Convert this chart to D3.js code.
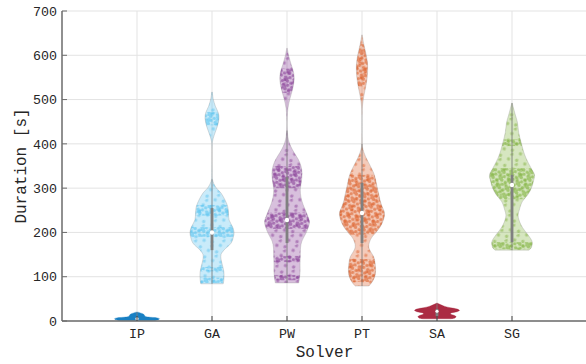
<!DOCTYPE html>
<html>
<head>
<meta charset="utf-8">
<script src="https://cdn.jsdelivr.net/npm/d3@7"></script>
<style>
  body { margin: 0; background: #fff; }
  svg text { font-family: "Liberation Mono", "DejaVu Sans Mono", monospace; fill: #262626; }
</style>
</head>
<body>
<div id="chart"></div>
<script>
var w = 586;
var h = 364;

// categories and colours
var solvers = ["IP", "GA", "PW", "PT", "SA", "SG"];
var colors = ["#0072BD", "#4DBEEE", "#7E2F8E", "#D95319", "#A2142F", "#77AC30"];
var yTicks = [0, 100, 200, 300, 400, 500, 600, 700];

// density profiles: [duration, relative density]
var densIP = [[1, 0.7], [3, 0.95], [5, 1.0], [7, 0.9], [9, 0.5], [11, 0.35], [14, 0.32], [17, 0.22], [20, 0.05]];
var densGA = [[84, 0.5], [95, 0.53], [110, 0.53], [125, 0.47], [140, 0.4], [150, 0.4], [160, 0.53], [176, 0.85], [190, 0.95], [200, 0.98], [212, 0.92], [228, 0.76], [245, 0.73], [258, 0.7], [273, 0.58], [289, 0.4], [300, 0.2], [310, 0.08], [320, 0.02], [340, 0.005], [395, 0.005], [405, 0.02], [420, 0.1], [440, 0.24], [458, 0.31], [470, 0.28], [485, 0.15], [500, 0.06], [517, 0.01]];
var densPW = [[86, 0.52], [95, 0.55], [110, 0.58], [130, 0.58], [145, 0.59], [165, 0.6], [180, 0.66], [199, 0.85], [212, 0.95], [224, 1.0], [236, 0.93], [250, 0.82], [265, 0.7], [280, 0.62], [296, 0.59], [315, 0.64], [334, 0.67], [350, 0.62], [365, 0.5], [380, 0.32], [395, 0.16], [410, 0.06], [425, 0.02], [440, 0.005], [460, 0.01], [480, 0.04], [500, 0.12], [520, 0.23], [540, 0.31], [560, 0.3], [580, 0.18], [600, 0.07], [616, 0.01]];
var densPT = [[79, 0.3], [86, 0.42], [99, 0.56], [110, 0.6], [122, 0.6], [135, 0.57], [145, 0.52], [157, 0.38], [167, 0.3], [178, 0.33], [190, 0.45], [200, 0.62], [212, 0.8], [228, 0.95], [244, 1.0], [260, 0.88], [273, 0.8], [288, 0.74], [303, 0.67], [320, 0.6], [334, 0.52], [345, 0.42], [357, 0.3], [370, 0.17], [380, 0.09], [393, 0.02], [410, 0.005], [470, 0.005], [490, 0.03], [510, 0.09], [530, 0.17], [550, 0.23], [567, 0.25], [585, 0.24], [605, 0.17], [625, 0.08], [646, 0.01]];
var densSA = [[5, 0.6], [7, 0.8], [10, 0.85], [13, 0.75], [16, 0.6], [18, 0.62], [21, 0.9], [24, 1.0], [27, 0.9], [30, 0.6], [33, 0.35], [36, 0.2], [40, 0.03]];
var densSG = [[160, 0.75], [165, 0.85], [178, 0.9], [194, 0.72], [205, 0.55], [217, 0.4], [230, 0.3], [239, 0.27], [250, 0.32], [269, 0.45], [285, 0.7], [300, 0.86], [315, 0.95], [330, 1.0], [345, 0.85], [368, 0.62], [385, 0.5], [404, 0.4], [425, 0.3], [449, 0.24], [465, 0.15], [480, 0.07], [492, 0.01]];

// ranges where the data points bunch together
var bandsIP = [[1, 20]];
var bandsGA = [[86, 98], [112, 122], [190, 212], [238, 262], [442, 472]];
var bandsPW = [[92, 104], [133, 147], [208, 245], [300, 350], [515, 570]];
var bandsPT = [[88, 140], [195, 330], [530, 625]];
var bandsSA = [[5, 38]];
var bandsSG = [[162, 178], [275, 345], [395, 410]];

// box statistics
var medians = [5, 200, 228, 244, 22, 307];
var q1 = [3, 160, 176, 176, 11, 178];
var q3 = [8, 255, 325, 312, 27, 330];
var whiskLo = [1, 84, 86, 79, 5, 160];
var whiskHi = [20, 320, 430, 400, 40, 492];

var dens = [densIP, densGA, densPW, densPT, densSA, densSG];
var bands = [bandsIP, bandsGA, bandsPW, bandsPT, bandsSA, bandsSG];

var svg = d3.select("#chart").append("svg").attr("width", w).attr("height", h);

var x = d3.scaleLinear().domain([0, 7]).range([62, 587]);
var y = d3.scaleLinear().domain([0, 700]).range([321, 11]);
var halfW = 0.3; // violin half width in category units

// grid
svg.selectAll(".hgrid").data(yTicks).enter().append("line")
  .attr("x1", x(0)).attr("x2", x(7))
  .attr("y1", d => y(d)).attr("y2", d => y(d))
  .attr("stroke", "#e3e3e3").attr("stroke-width", 1);
svg.selectAll(".vgrid").data(solvers).enter().append("line")
  .attr("x1", (d, i) => x(i + 1)).attr("x2", (d, i) => x(i + 1))
  .attr("y1", y(0)).attr("y2", y(700))
  .attr("stroke", "#e3e3e3").attr("stroke-width", 1);

// dot patterns
var defs = svg.append("defs");
colors.forEach(function (c, i) {
  var dense = defs.append("pattern").attr("id", "dense" + i)
    .attr("patternUnits", "userSpaceOnUse").attr("width", 9).attr("height", 8)
    .attr("patternTransform", "rotate(17)");
  [[1.5, 1.5], [5.5, 2.6], [3, 5.4], [7.6, 6.3], [8.4, 0.4], [0.4, 7.2]].forEach(function (p) {
    dense.append("circle").attr("cx", p[0]).attr("cy", p[1]).attr("r", 1.7)
      .attr("fill", c).attr("fill-opacity", 0.55);
  });
  var sparse = defs.append("pattern").attr("id", "sparse" + i)
    .attr("patternUnits", "userSpaceOnUse").attr("width", 13).attr("height", 11)
    .attr("patternTransform", "rotate(-23)");
  [[3, 4], [10, 8.5], [8, 1]].forEach(function (p) {
    sparse.append("circle").attr("cx", p[0]).attr("cy", p[1]).attr("r", 1.7)
      .attr("fill", c).attr("fill-opacity", 0.45);
  });
});

// violins
dens.forEach(function (profile, i) {
  var cx = i + 1;
  var area = d3.area()
    .curve(d3.curveCatmullRom.alpha(0.5))
    .y(d => y(d[0]))
    .x0(d => x(cx - halfW * d[1]))
    .x1(d => x(cx + halfW * d[1]));

  defs.append("clipPath").attr("id", "clip" + i)
    .append("path").attr("d", area(profile));

  var lo = d3.min(profile, d => d[0]);
  var hi = d3.max(profile, d => d[0]);
  // very short violins are so packed with points that they read as solid
  var packed = y(lo) - y(hi) < 30;

  var g = svg.append("g");
  g.append("path").attr("d", area(profile))
    .attr("fill", colors[i]).attr("fill-opacity", packed ? 0.9 : 0.3);

  var dots = g.append("g").attr("clip-path", "url(#clip" + i + ")");
  if (!packed) {
    dots.append("rect")
      .attr("x", x(cx - halfW) - 2).attr("width", x(cx + halfW) - x(cx - halfW) + 4)
      .attr("y", y(hi)).attr("height", y(lo) - y(hi))
      .attr("fill", "url(#sparse" + i + ")");
    dots.selectAll("rect.band").data(bands[i]).enter().append("rect")
      .attr("x", x(cx - halfW) - 2).attr("width", x(cx + halfW) - x(cx - halfW) + 4)
      .attr("y", d => y(d[1])).attr("height", d => y(d[0]) - y(d[1]))
      .attr("fill", "url(#dense" + i + ")");
  }

  g.append("path").attr("d", area(profile))
    .attr("fill", "none").attr("stroke", packed ? colors[i] : "#8c8c8c")
    .attr("stroke-opacity", 0.5).attr("stroke-width", 0.6);

  // whisker, box, median
  g.append("line")
    .attr("x1", x(cx)).attr("x2", x(cx))
    .attr("y1", y(whiskLo[i])).attr("y2", y(whiskHi[i]))
    .attr("stroke", "#808080").attr("stroke-width", 0.8);
  g.append("rect")
    .attr("x", x(cx) - 1.4).attr("width", 2.8)
    .attr("y", y(q3[i])).attr("height", y(q1[i]) - y(q3[i]))
    .attr("fill", "#808080");
  g.append("circle")
    .attr("cx", x(cx)).attr("cy", y(medians[i])).attr("r", packed ? 1.6 : 2.2)
    .attr("fill", "#fff");
});

// axes
svg.append("line").attr("x1", x(0)).attr("x2", x(7)).attr("y1", y(0)).attr("y2", y(0))
  .attr("stroke", "#6b6b6b").attr("stroke-width", 1.5);
svg.append("line").attr("x1", x(0)).attr("x2", x(0)).attr("y1", y(0)).attr("y2", y(700))
  .attr("stroke", "#6b6b6b").attr("stroke-width", 1.5);

svg.selectAll(".xtick").data(solvers).enter().append("line")
  .attr("x1", (d, i) => x(i + 1)).attr("x2", (d, i) => x(i + 1))
  .attr("y1", y(0)).attr("y2", y(0) - 5)
  .attr("stroke", "#404040").attr("stroke-width", 1);
svg.selectAll(".ytick").data(yTicks).enter().append("line")
  .attr("x1", x(0)).attr("x2", x(0) + 5)
  .attr("y1", d => y(d)).attr("y2", d => y(d))
  .attr("stroke", "#6b6b6b").attr("stroke-width", 1);

svg.selectAll(".xlab").data(solvers).enter().append("text")
  .attr("x", (d, i) => x(i + 1)).attr("y", 338)
  .attr("text-anchor", "middle").attr("font-size", 13.3)
  .text(d => d);
svg.selectAll(".ylab").data(yTicks).enter().append("text")
  .attr("x", 57).attr("y", d => y(d)).attr("dy", "0.35em")
  .attr("text-anchor", "end").attr("font-size", 13.3)
  .text(d => d);

svg.append("text")
  .attr("x", (x(0) + x(7)) / 2).attr("y", 357)
  .attr("text-anchor", "middle").attr("font-size", 16)
  .text("Solver");
svg.append("text")
  .attr("transform", "translate(20," + (y(0) + y(700)) / 2 + ") rotate(-90)")
  .attr("dy", "0.35em")
  .attr("text-anchor", "middle").attr("font-size", 16)
  .text("Duration [s]");
</script>
</body>
</html>
